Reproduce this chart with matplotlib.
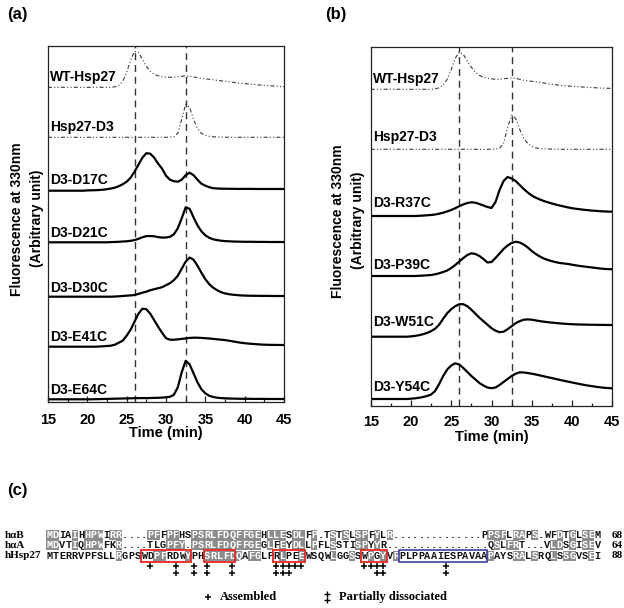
import numpy as np
import matplotlib
matplotlib.use("Agg")
import matplotlib.pyplot as plt
from matplotlib.patches import Rectangle
from matplotlib.ticker import MultipleLocator

plt.rcParams['font.family'] = ['Liberation Sans', 'DejaVu Sans']
plt.rcParams['font.weight'] = 'bold'

# ---------------- data ----------------
time_min = np.linspace(15, 45, 61)   # sampling grid, 0.5 min

# panel (a) traces (signal above each trace's own baseline, arbitrary units)
a_names = ["WT-Hsp27", "Hsp27-D3", "D3-D17C", "D3-D21C", "D3-D30C", "D3-E41C", "D3-E64C"]
a_WT = [0, 0, 0, 0, 0, 0, 0, 0, 0, 0,
        0, 0, 0, 0, 0, 0, 0, 0.5, 2, 6,
        15, 27, 36, 35, 28, 21, 16, 13, 11.5, 10.5,
        10, 10, 10, 10.5, 11, 11.5, 11, 10.5, 9.5, 9,
        8.5, 8, 7.5, 7, 6.5, 6, 5.5, 5, 4.5, 4,
        3.7, 3.3, 3, 2.6, 2.3, 2, 1.7, 1.4, 1.1, 0.8,
        0.6]
a_D3 = [0, 0, 0, 0, 0, 0, 0, 0, 0, 0,
        0, 0, 0, 0, 0, 0, 0, 0, 0, 0,
        0, 0, 0, 0, 0, 0, 0, 0, 0, 0,
        0, 0.2, 0.5, 4, 18, 33, 30, 18, 9, 4,
        2, 1, 0.5, 0.3, 0.2, 0.1, 0, 0, 0, 0,
        0, 0, 0, 0, 0, 0, 0, 0, 0, 0,
        0]
a_D17C = [0, 0, 0, 0, 0, 0, 0, 0, 0, 0,
          0.3, 0.4, 0.5, 0.7, 1, 1.5, 2.2, 3, 4.5, 6.5,
          9, 13, 19, 26, 33, 37.5, 37, 33, 27, 22,
          15, 11, 9.5, 9, 11, 15.5, 18, 15.5, 11, 7,
          5, 3.5, 2.5, 2.2, 2, 2, 1.9, 1.9, 1.8, 1.8,
          1.8, 1.8, 1.8, 1.7, 1.7, 1.7, 1.7, 1.7, 1.7, 1.7,
          1.7]
a_D21C = [0, 0, 0, 0, 0, 0, 0, 0, 0, 0,
          0, 0, 0, 0, 0, 0, 0.2, 0.3, 0.5, 0.8,
          1, 1.5, 2.2, 3.5, 5, 6.2, 6.3, 6, 5.2, 4.7,
          4.8, 5.5, 8, 14, 24, 35, 33.5, 25, 17, 11,
          7, 4.5, 3, 2.2, 1.6, 1.2, 1, 0.8, 0.7, 0.6,
          0.5, 0.5, 0.5, 0.4, 0.4, 0.4, 0.3, 0.3, 0.3, 0.3,
          0.3]
a_D30C = [0, 0, 0, 0, 0, 0, 0, 0, 0, 0,
          0, 0, 0, 0, 0, 0, 0, 0.2, 0.4, 0.7,
          1, 1.3, 1.7, 2.8, 4, 5, 6.5, 7.5, 8.5, 9.5,
          11.5, 13.5, 16.5, 21, 28, 35, 39.2, 37, 31, 24,
          17.5, 12.5, 9, 6.5, 4.5, 3.3, 2.5, 2, 1.6, 1.3,
          1.1, 1, 0.9, 0.9, 0.8, 0.8, 0.8, 0.7, 0.7, 0.7,
          0.7]
a_E41C = [0, 0, 0, 0, 0, 0, 0, 0, 0, 0,
          0, 0, 0, 0.2, 0.4, 0.7, 1, 2, 4, 6,
          11, 17, 25, 33, 38, 37.5, 33, 26.5, 20, 14,
          8.5, 7, 7, 7.3, 7.8, 8.3, 8.8, 9, 9, 8.8,
          8.5, 8.2, 7.8, 7.4, 7, 6.6, 6, 5.3, 4.6, 4,
          3.5, 3.1, 2.8, 2.5, 2.2, 2, 1.9, 1.8, 1.8, 1.7,
          1.7]
a_E64C = [0, 0, 0, 0, 0, 0, 0, 0, 0, 0,
          0, 0, 0.1, 0.2, 0.3, 0.4, 0.5, 0.6, 0.7, 0.8,
          0.9, 1, 1.1, 1.2, 1.2, 1.2, 1.3, 1.4, 1.5, 1.7,
          2, 2.5, 4.5, 12, 27, 38.5, 35, 26, 17, 10,
          6, 3.5, 2.3, 1.6, 1.2, 1, 0.8, 0.7, 0.6, 0.5,
          0.5, 0.5, 0.4, 0.4, 0.4, 0.4, 0.3, 0.3, 0.3, 0.3,
          0.3]
a_ref_times = [26.1, 32.6]

# panel (b) traces
b_names = ["WT-Hsp27", "Hsp27-D3", "D3-R37C", "D3-P39C", "D3-W51C", "D3-Y54C"]
b_WT = [0, 0, 0, 0, 0, 0, 0, 0, 0, 0,
        0, 0, 0, 0, 0, 0, 0.5, 1.5, 4, 10,
        20, 31, 37.5, 35, 28, 22, 17, 14, 12, 11,
        10.5, 10, 10, 10.5, 11, 11.5, 11, 10, 9, 8.5,
        8, 7.5, 7, 6.3, 5.5, 5, 4.5, 4, 3.5, 3.2,
        3, 2.7, 2.5, 2.2, 2, 1.7, 1.5, 1.3, 1.1, 1,
        1]
b_D3 = [0, 0, 0, 0, 0, 0, 0, 0, 0, 0,
        0, 0, 0, 0, 0, 0, 0, 0, 0, 0,
        0, 0, 0, 0, 0, 0, 0, 0, 0, 0,
        0.1, 0.3, 1, 6, 22, 34, 31, 20, 11, 6,
        3, 1.5, 0.8, 0.5, 0.3, 0.2, 0.1, 0, 0, 0,
        0, 0, 0, 0, 0, 0, 0, 0, 0, 0,
        0]
b_R37C = [0, 0, 0, 0, 0, 0, 0, 0, 0, 0,
          0, 0, 0.2, 0.4, 0.7, 1, 1.5, 2.3, 3.3, 4.6,
          6, 7.8, 9.8, 11.6, 13, 13.7, 13.3, 12, 10.5, 9,
          8, 14, 26, 35, 39, 37.5, 35, 31, 27, 23.5,
          20.5, 18.3, 16.5, 15, 13.7, 12.5, 11.4, 10.4, 9.5, 8.6,
          7.8, 7.2, 6.7, 6.2, 5.8, 5.4, 5.1, 4.8, 4.6, 4.4,
          4.3]
b_P39C = [0, 0, 0, 0, 0, 0, 0, 0, 0, 0,
          0, 0, 0.2, 0.4, 0.7, 1, 1.7, 2.7, 4, 5.5,
          8, 11, 14.5, 18, 21, 22.7, 22, 20, 17, 13.5,
          14, 18, 22.5, 27, 30.5, 33, 34.3, 33.5, 31.5, 28.5,
          25, 22, 19.5, 17.5, 16, 14.8, 13.8, 13, 12.5, 12,
          11.3, 10.6, 10, 9.5, 9, 8.5, 8, 7.5, 7.1, 6.9,
          6.7]
b_W51C = [0, 0, 0, 0, 0, 0, 0, 0, 0, 0,
          0.3, 0.8, 1.5, 2.5, 3.8, 5.5, 8, 12, 18, 23.5,
          27.5, 30.5, 32.5, 32.5, 30.5, 27, 23, 19, 15.5, 12,
          8.5, 6, 4.5, 5, 7.5, 10.5, 13.5, 15.5, 17, 17.3,
          17, 16.3, 15.6, 15, 14.5, 14.1, 13.7, 13.3, 13, 12.7,
          12.5, 12.3, 12.2, 12.1, 12, 11.9, 11.9, 11.8, 11.8, 11.7,
          11.7]
b_Y54C = [0, 0, 0, 0, 0, 0, 0, 0, 0, 0,
          0.3, 0.7, 1.2, 2, 3, 4.5, 8, 15, 23, 29.5,
          33.5, 35.7, 34.5, 31, 27, 23, 19.5, 16, 13.5, 11.5,
          10.8, 11.5, 14, 17, 20, 23, 25.3, 26.7, 26.5, 26,
          25.3, 24.5, 23.6, 22.7, 21.8, 20.9, 20, 19.1, 18.2, 17.4,
          16.5, 15.7, 14.9, 14.1, 13.4, 12.8, 12.2, 11.7, 11.2, 10.9,
          10.7]
b_ref_times = [26.0, 32.6]

# panel (c) alignment
seq_names = ["h\u03b1B", "h\u03b1A", "hHsp27"]
seq_aB = "MDIAIHHPWIRR....PFFPFHSPSRLFDQFFGEHLLESDLFP.TSTSLSPFYLR..............PPSFLRAPS.WFDTGLSEM"
seq_aA = "MDVTIQHPWFKR....TLGPFY.PSRLFDQFFGEGLFEYDLLPFLSSTISPYYR................QSLFRT...VLDSGISEV"
seq_hsp27 = "MTERRVPFSLLRGPSWDPFRDWYPHSRLFDQAFGLPRLPEEWSQWLGGSSWPGYVRPLPPAAIESPAVAAPAYSRALSRQLSSGVSEI"
seq_ends = ["68", "64", "88"]
shade_aB = [1, 2, 5, 7, 8, 9, 11, 12, 17, 18, 20, 21, 24, 25, 26, 27, 28, 29, 30, 31, 32, 33, 34,
            36, 37, 38, 40, 41, 43, 46, 48, 50, 51, 53, 55, 71, 72, 73, 75, 76, 78, 82, 84, 86, 87]
shade_aA = [1, 2, 5, 7, 8, 9, 12, 20, 21, 22, 24, 25, 26, 27, 28, 29, 30, 31, 32, 33, 34,
            36, 38, 40, 41, 43, 46, 50, 51, 53, 72, 74, 75, 81, 82, 84, 86, 87]
shade_hsp27 = [12, 18, 19, 23, 26, 27, 28, 29, 30, 31, 33, 34, 38, 41, 46, 49, 52, 54, 56,
               71, 75, 76, 78, 81, 83, 84, 87]
red_boxes = [(16, 23), (26, 30), (37, 41), (51, 54)]
blue_boxes = [(57, 70)]
assembled_cols = [17, 21, 24, 26, 30, 37, 38, 39, 40, 41, 51, 52, 53, 54, 64]
dissociated_cols = [21, 24, 26, 30, 37, 38, 39, 53, 54, 64]

# ---------------- layout ----------------
W, H = 624, 608
fig = plt.figure(figsize=(W / 100, H / 100), dpi=100)


def rect(l, t, r, b):
    return [l / W, 1 - b / H, (r - l) / W, (b - t) / H]


axA = fig.add_axes(rect(48, 46, 284, 402))
axB = fig.add_axes(rect(370.7, 46.7, 612.3, 405.5))

a_stack = [314.7, 264.7, 211.3, 159.7, 105.3, 55.3, 2.7]
a_label_y = [325.3, 274.7, 222, 168.7, 113.7, 64.7, 12]
b_stack = [316.2, 256.2, 189.5, 129.5, 68.8, 6.5]
b_label_y = [326.5, 268.5, 202.5, 140.5, 83.8, 18.8]

dashdotdot = (0, (3.6, 2, 1, 2, 1, 2))


def panel(ax, height, names, traces, stack, label_y, refs, tickpad, letter, letter_xy,
          ylab_x, xlab_y):
    ax.set_xlim(15, 45)
    ax.set_ylim(0, height)
    for t in refs:
        ax.axvline(t, color='#333333', lw=1.0, ls=(0, (5, 3.5)), zorder=1)
    for i, (nm, sig, off, ly) in enumerate(zip(names, traces, stack, label_y)):
        y = off + np.asarray(sig, dtype=float)
        if i < 2:
            ax.plot(time_min, y, color='#3a3a3a', lw=0.8, ls=dashdotdot, zorder=2)
        else:
            ax.plot(time_min, y, color='black', lw=1.6, zorder=2, solid_joinstyle='round')
        ax.text(15.3, ly, nm, fontsize=10, fontweight='bold', ha='left', va='center', zorder=3)
    ax.xaxis.set_major_locator(MultipleLocator(5))
    ax.xaxis.set_minor_locator(MultipleLocator(2.5))
    ax.tick_params(axis='x', which='both', direction='in', labelsize=10.5, pad=tickpad,
                   width=0.9, color='#222222')
    ax.tick_params(axis='x', which='major', length=4)
    ax.tick_params(axis='x', which='minor', length=2.5)
    ax.set_yticks([])
    for s in ax.spines.values():
        s.set_linewidth(0.9)
        s.set_color('#222222')
    ax.set_xlabel("Time (min)", fontsize=10.5, fontweight='bold')
    ax.xaxis.label.set_va('center')
    ax.xaxis.set_label_coords(0.5, xlab_y)
    ax.text(ylab_x[0], 0.513, "Fluorescence at 330nm", rotation=90, fontsize=10,
            fontweight='bold', ha='center', va='center', transform=ax.transAxes)
    ax.text(ylab_x[1], 0.517, "(Arbitrary unit)", rotation=90, fontsize=10,
            fontweight='bold', ha='center', va='center', transform=ax.transAxes)
    fig.text(letter_xy[0] / W, 1 - letter_xy[1] / H, letter, fontsize=12, fontweight='bold',
             ha='center', va='center')


panel(axA, 356, a_names, [a_WT, a_D3, a_D17C, a_D21C, a_D30C, a_E41C, a_E64C],
      a_stack, a_label_y, a_ref_times, 8.0, "(a)", (17, 14.5), (-0.131, -0.045), -0.086)
panel(axB, 358.8, b_names, [b_WT, b_D3, b_R37C, b_P39C, b_W51C, b_Y54C],
      b_stack, b_label_y, b_ref_times, 7.0, "(b)", (336, 14.5), (-0.137, -0.053), -0.087)

# ---------------- panel (c) ----------------
col0_px, colw_px = 49.5, 6.3
axC = fig.add_axes(rect(0, 458, 624, 608))
axC.set_xlim(1 - col0_px / colw_px, 1 + (W - col0_px) / colw_px)
axC.set_ylim(608, 458)
axC.axis('off')

row_y = [535, 545, 555.5]
box_h = 10
gray = '#8c8c8c'
mono = ['Liberation Mono', 'DejaVu Sans Mono']
serif = ['Liberation Serif', 'DejaVu Serif']

for name, seq, shade, end, ry in zip(seq_names, [seq_aB, seq_aA, seq_hsp27],
                                     [shade_aB, shade_aA, shade_hsp27], seq_ends, row_y):
    s = sorted(shade)
    runs = []
    for c in s:
        if runs and c == runs[-1][1] + 1:
            runs[-1][1] = c
        else:
            runs.append([c, c])
    for a, b in runs:
        axC.add_patch(Rectangle((a - 0.5, ry - box_h / 2), b - a + 1, box_h,
                                facecolor=gray, edgecolor='none', zorder=1))
    for i, ch in enumerate(seq):
        col = i + 1
        axC.text(col, ry + 0.3, ch, fontsize=7.4, family=mono, fontweight='bold',
                 color='white' if col in shade else '#111111', ha='center', va='center', zorder=3)
    axC.text(1 + (5 - col0_px) / colw_px, ry, name, fontsize=8, family=serif,
             fontweight='bold', ha='left', va='center')
    axC.text(1 + (611.5 - col0_px) / colw_px, ry, end, fontsize=8, family=serif,
             fontweight='bold', ha='left', va='center')

hsp_y = row_y[2]
for a, b in red_boxes:
    axC.add_patch(Rectangle((a - 0.5, hsp_y - 6), b - a + 1, 12, facecolor='none',
                            edgecolor='#e8251f', lw=1.3, zorder=4))
for a, b in blue_boxes:
    axC.add_patch(Rectangle((a - 0.5, hsp_y - 6), b - a + 1, 12, facecolor='none',
                            edgecolor='#2e3192', lw=1.1, zorder=4))

# site markers drawn as '+' markers
axC.plot(assembled_cols, [565.5] * len(assembled_cols), ls='none', marker='+',
         ms=5, mew=1.1, color='black')
axC.plot(dissociated_cols, [573] * len(dissociated_cols), ls='none', marker='+',
         ms=5, mew=1.1, color='black')


def pxcol(x):
    return 1 + (x - col0_px) / colw_px


# legend
axC.plot([pxcol(208)], [597], ls='none', marker='+', ms=5, mew=1.1, color='black')
axC.text(pxcol(220), 597, 'Assembled', fontsize=9, family=serif, fontweight='bold',
         ha='left', va='center')
axC.plot([pxcol(327), pxcol(327)], [593.5, 600], ls='none', marker='+', ms=4.2, mew=1.0,
         color='black')
axC.text(pxcol(339), 597, 'Partially dissociated', fontsize=9, family=serif, fontweight='bold',
         ha='left', va='center')

fig.text(17 / W, 1 - 491 / H, "(c)", fontsize=12, fontweight='bold', ha='center', va='center')

fig.savefig("out.png", dpi=100)
